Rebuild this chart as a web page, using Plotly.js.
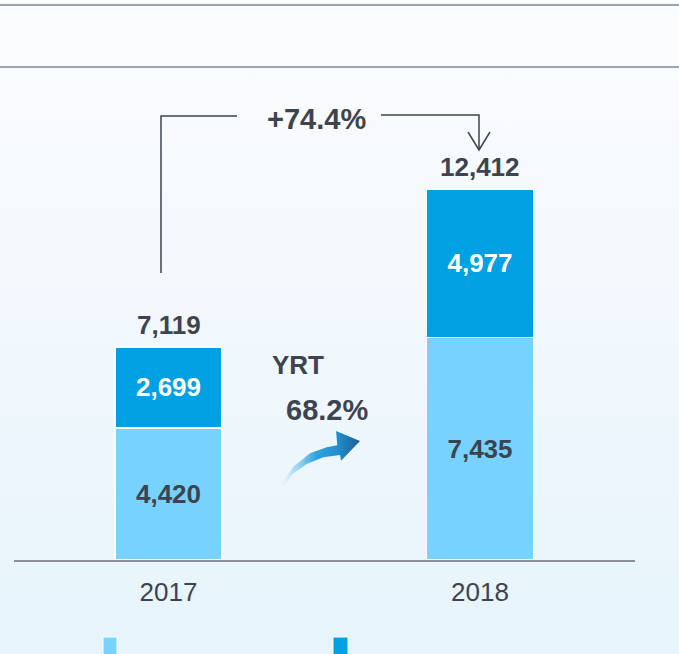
<!DOCTYPE html>
<html><head><meta charset="utf-8">
<script src="https://cdn.plot.ly/plotly-3.0.1.min.js"></script>
<style>
html,body{margin:0;padding:0;}
body{width:679px;height:654px;overflow:hidden;background:linear-gradient(to bottom,#fbfcfe 0%,#f5f9fd 35%,#e6f4fb 100%);}
#chart{width:679px;height:654px;}
</style></head><body><div id="chart"></div>
<script>
// ---- data ----
const years = ['2017', '2018'];
const lowerSeries = [4420, 7435];   // light blue (bottom)
const upperSeries = [2699, 4977];   // dark blue (top)
const growthTag = 'YRT';

// ---- derived ----
const totals = years.map((_, i) => lowerSeries[i] + upperSeries[i]);
const fmt = v => v.toLocaleString('en-US');
const totalGrowth = '+' + ((totals[1] / totals[0] - 1) * 100).toFixed(1) + '%';
const lowerGrowth = ((lowerSeries[1] / lowerSeries[0] - 1) * 100).toFixed(1) + '%';

const FONT = '"Liberation Sans", Arial, Helvetica, sans-serif';
const DARK = '#3d4450';
const LIGHT_BLUE = '#77d3fe';
const MID_BLUE = '#00a0e3';

const barCommon = {
  type: 'bar', x: years, width: 0.344,
  textposition: 'inside', insidetextanchor: 'middle',
  hoverinfo: 'skip', cliponaxis: false
};
const traces = [
  Object.assign({}, barCommon, {
    name: 'lower', y: lowerSeries, text: lowerSeries.map(fmt),
    marker: {color: LIGHT_BLUE, line: {color: '#ffffff', width: 1.5}},
    insidetextfont: {family: FONT, size: 26, color: DARK, weight: 'bold'}
  }),
  Object.assign({}, barCommon, {
    name: 'upper', y: upperSeries, text: upperSeries.map(fmt),
    marker: {color: MID_BLUE, line: {color: '#ffffff', width: 1.5}},
    insidetextfont: {family: FONT, size: 26, color: '#ffffff', weight: 'bold'}
  }),
  // decorative curved growth arrow (pixel overlay axes)
  {
    type: 'scatter', xaxis: 'x2', yaxis: 'y2', mode: 'none', fill: 'toself',
    x: [280.7, 293.3, 310, 326.7, 337.3, 336, 360, 341, 340, 323.3, 306.7, 293.3, 282.7],
    y: [484, 466.7, 453.3, 447.3, 445.3, 431, 441, 460.7, 455, 457.3, 464, 473.3, 487.3],
    fillgradient: {type: 'horizontal', colorscale: [[0, 'rgba(230,245,252,0.2)'], [0.15, 'rgba(170,220,245,0.85)'], [0.45, '#2fa3df'], [0.7, '#2590d0'], [1, '#1a5f98']]},
    hoverinfo: 'skip'
  }
];

const ann = [];
years.forEach((y, i) => {
  ann.push({x: i, xref: 'x', y: totals[i], yref: 'y', yanchor: 'bottom', yshift: 5,
    text: '<b>' + fmt(totals[i]) + '</b>', showarrow: false,
    font: {family: FONT, size: 26, color: DARK}});
});
ann.push({x: 316.5, y: 119, xref: 'x2', yref: 'y2', text: '<b>' + totalGrowth + '</b>', showarrow: false,
  font: {family: FONT, size: 29, color: DARK}});
ann.push({x: 297.5, y: 365, xref: 'x2', yref: 'y2', text: '<b>' + growthTag + '</b>', showarrow: false,
  font: {family: FONT, size: 26, color: DARK}});
ann.push({x: 327, y: 410, xref: 'x2', yref: 'y2', text: '<b>' + lowerGrowth + '</b>', showarrow: false,
  font: {family: FONT, size: 29, color: DARK}});

const lineStyle = {color: DARK, width: 1.5};
const shapes = [
  {type: 'line', xref: 'x2', yref: 'y2', x0: 0, x1: 679, y0: 5, y1: 5, line: {color: '#7a8494', width: 1.5}},
  {type: 'line', xref: 'x2', yref: 'y2', x0: 0, x1: 679, y0: 67, y1: 67, line: {color: '#9ba4ac', width: 2}},
  {type: 'path', xref: 'x2', yref: 'y2', path: 'M161,273 V116 H237', line: lineStyle},
  {type: 'path', xref: 'x2', yref: 'y2', path: 'M381,115 H479 V150', line: lineStyle},
  {type: 'path', xref: 'x2', yref: 'y2', path: 'M468,132 L479,150 L490,132', line: lineStyle},
  // legend keys
  {type: 'rect', xref: 'x2', yref: 'y2', x0: 103, x1: 117, y0: 637, y1: 658, fillcolor: LIGHT_BLUE, line: {color: '#ffffff', width: 1}},
  {type: 'rect', xref: 'x2', yref: 'y2', x0: 333, x1: 348, y0: 637, y1: 658, fillcolor: MID_BLUE, line: {color: '#ffffff', width: 1}}
];

const layout = {
  width: 679, height: 654,
  margin: {l: 0, r: 0, t: 0, b: 0},
  paper_bgcolor: 'rgba(0,0,0,0)', plot_bgcolor: 'rgba(0,0,0,0)',
  barmode: 'stack', showlegend: false,
  font: {family: FONT, color: DARK},
  xaxis: {type: 'category', domain: [14 / 679, 635 / 679], range: [-0.496, 1.4976],
    showline: true, linecolor: '#8d8f92', linewidth: 2, showgrid: false, zeroline: false,
    ticks: '', tickfont: {family: FONT, size: 26, color: DARK}, ticklabelstandoff: 8, fixedrange: true},
  yaxis: {domain: [94 / 654, 574 / 654], range: [0, 16050], visible: false, fixedrange: true},
  xaxis2: {domain: [0, 1], range: [0, 679], visible: false, anchor: 'y2', fixedrange: true},
  yaxis2: {domain: [0, 1], range: [654, 0], visible: false, anchor: 'x2', fixedrange: true},
  annotations: ann,
  shapes: shapes
};

Plotly.newPlot('chart', traces, layout, {staticPlot: true, displayModeBar: false});
</script></body></html>
